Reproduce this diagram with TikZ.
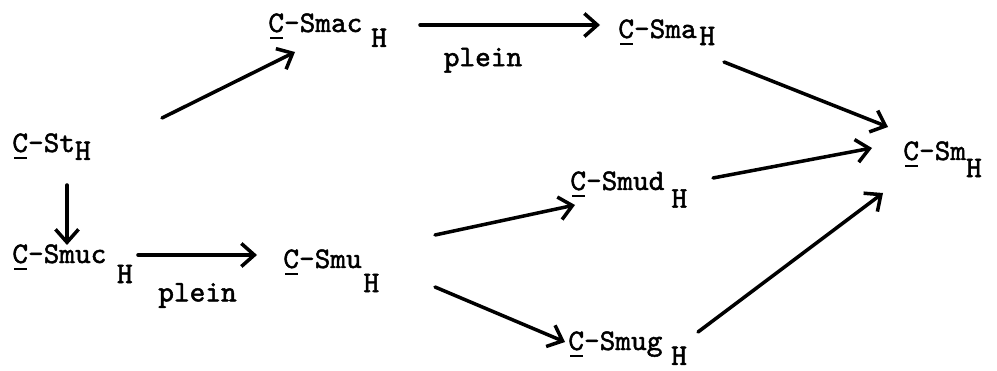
\documentclass[tikz,border=0pt]{standalone}
\usepackage{fontspec}
\setmonofont{lmmono10-regular.otf}[FakeBold=1.6]
\usepackage{tikz}
\usetikzlibrary{arrows.meta,positioning}
\newcommand{\Cu}{\rlap{\kern0.06em\rule[-4pt]{0.42em}{1.4pt}}C}
\newcommand{\Hlow}[2]{\hspace{#1}\raisebox{-#2}{H}}
\tikzset{
  >={Straight Barb[length=2.6mm,width=4.6mm,line width=2pt]},
  comp/.style={
    anchor=base west,
    inner sep=0pt,
    font=\fontsize{17}{20}\selectfont\ttfamily},
  flow/.style={draw, ->, line width=2pt, line cap=round},
  lbl/.style={inner sep=0pt, font=\fontsize{17}{20}\selectfont\ttfamily},
}
\begin{document}
\begin{tikzpicture}[x=0.02cm,y=-0.02cm]
  \useasboundingbox (0,0) rectangle (997,371);
  % compounds
  \node[comp] (st)   at (12,152)  {\Cu-St\Hlow{0pt}{4.5pt}};
  \node[comp] (smuc) at (12,263)  {\Cu-Smuc\Hlow{6pt}{11.4pt}};
  \node[comp] (smac) at (268,32)  {\Cu-Smac\Hlow{5pt}{8.5pt}};
  \node[comp] (sma)  at (618,38)  {\Cu-Sma\Hlow{1.5pt}{4pt}};
  \node[comp] (smu)  at (283,268) {\Cu-Smu\Hlow{1pt}{13.7pt}};
  \node[comp] (smud) at (570,190) {\Cu-Smud\Hlow{4pt}{10pt}};
  \node[comp] (smug) at (568,350) {\Cu-Smug\Hlow{5pt}{8.5pt}};
  \node[comp] (sm)   at (903,160) {\Cu-Sm\Hlow{0pt}{9.7pt}};
  % reactions
  \draw[flow] ([shift={(150,-34)}]st.base west) -- ([shift={(27,20)}]smac.base west);
  \draw[flow] ([shift={(152,-7)}]smac.base west) -- ([shift={(-18,-13)}]sma.base west)
    node[lbl, pos=0.35, below=12pt] (pl1) {plein};
  \draw[flow] ([shift={(106,24)}]sma.base west) -- ([shift={(-15,-33)}]sm.base west);
  \draw[flow] ([shift={(55,33)}]st.base west) -- ([shift={(55,-18)}]smuc.base west);
  \draw[flow] ([shift={(126,-8)}]smuc.base west) -- ([shift={(-26,-13)}]smu.base west)
    node[lbl, midway, below=15pt] (pl2) {plein};
  \draw[flow] ([shift={(152,-33)}]smu.base west) -- ([shift={(5,15)}]smud.base west);
  \draw[flow] ([shift={(152,19)}]smu.base west) -- ([shift={(-3,-8)}]smug.base west);
  \draw[flow] ([shift={(143,-12)}]smud.base west) -- ([shift={(-31,-12)}]sm.base west);
  \draw[flow] ([shift={(130,-18)}]smug.base west) -- ([shift={(-20,33)}]sm.base west);
\end{tikzpicture}
\end{document}
